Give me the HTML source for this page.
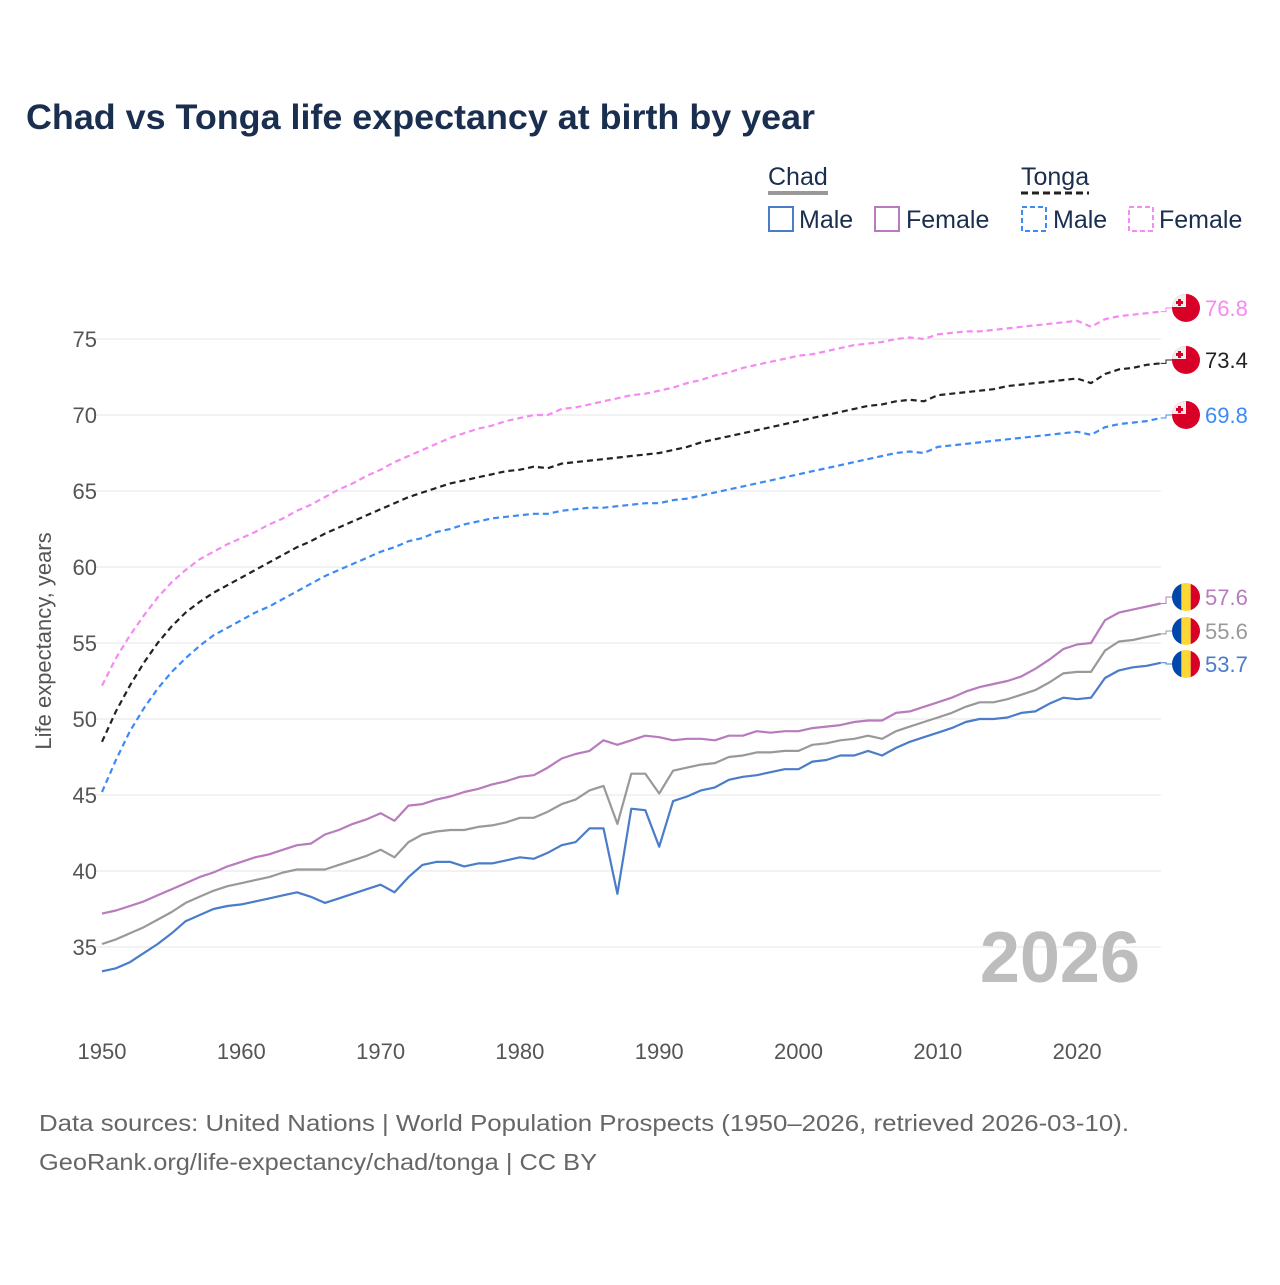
<!DOCTYPE html>
<html><head><meta charset="utf-8"><style>
html,body{margin:0;padding:0;background:#fff;}
body{width:1280px;height:1280px;overflow:hidden;font-family:"Liberation Sans",sans-serif;}
</style></head><body>
<svg id="chart" width="1280" height="1280" xmlns="http://www.w3.org/2000/svg" font-family="Liberation Sans, sans-serif">
<text x="26" y="129" font-size="35" font-weight="bold" fill="#1a2e4f" textLength="789" lengthAdjust="spacingAndGlyphs">Chad vs Tonga life expectancy at birth by year</text>
<g font-size="25" fill="#1a2e4f">
<text x="768" y="185">Chad</text>
<line x1="768" y1="193" x2="828" y2="193" stroke="#999" stroke-width="4"/>
<text x="1021" y="185">Tonga</text>
<line x1="1021" y1="193" x2="1089" y2="193" stroke="#222" stroke-width="3" stroke-dasharray="7,4"/>
<g><rect x="769" y="207" width="24" height="24" fill="none" stroke="#4a7cc9" stroke-width="2"/><text x="799" y="228">Male</text></g>
<g><rect x="875" y="207" width="24" height="24" fill="none" stroke="#b87bbd" stroke-width="2"/><text x="906" y="228">Female</text></g>
<g><rect x="1022" y="207" width="24" height="24" fill="none" stroke="#3d8af7" stroke-width="2" stroke-dasharray="5,3"/><text x="1053" y="228">Male</text></g>
<g><rect x="1129" y="207" width="24" height="24" fill="none" stroke="#f58af0" stroke-width="2" stroke-dasharray="5,3"/><text x="1159" y="228">Female</text></g>
</g>
<g id="grid"></g>
<text x="1140" y="982" font-size="72" font-weight="bold" fill="#bdbdbd" text-anchor="end">2026</text>
<g id="lines"></g>
<g id="ends"></g>
<text transform="translate(51,641) rotate(-90)" font-size="22" fill="#555" text-anchor="middle">Life expectancy, years</text>
<text x="39" y="1131" font-size="23" fill="#666" textLength="1090" lengthAdjust="spacingAndGlyphs">Data sources: United Nations | World Population Prospects (1950–2026, retrieved 2026-03-10).</text>
<text x="39" y="1170" font-size="23" fill="#666" textLength="558" lengthAdjust="spacingAndGlyphs">GeoRank.org/life-expectancy/chad/tonga | CC BY</text>
</svg>
<script>
const startYear = 1950;
const yTicks = [35,40,45,50,55,60,65,70,75];
const xTicks = [1950,1960,1970,1980,1990,2000,2010,2020];
const chadMale = [33.4,33.6,34.0,34.6,35.2,35.9,36.7,37.1,37.5,37.7,37.8,38.0,38.2,38.4,38.6,38.3,37.9,38.2,38.5,38.8,39.1,38.6,39.6,40.4,40.6,40.6,40.3,40.5,40.5,40.7,40.9,40.8,41.2,41.7,41.9,42.8,42.8,38.5,44.1,44.0,41.6,44.6,44.9,45.3,45.5,46.0,46.2,46.3,46.5,46.7,46.7,47.2,47.3,47.6,47.6,47.9,47.6,48.1,48.5,48.8,49.1,49.4,49.8,50.0,50.0,50.1,50.4,50.5,51.0,51.4,51.3,51.4,52.7,53.2,53.4,53.5,53.7];
const chadBoth = [35.2,35.5,35.9,36.3,36.8,37.3,37.9,38.3,38.7,39.0,39.2,39.4,39.6,39.9,40.1,40.1,40.1,40.4,40.7,41.0,41.4,40.9,41.9,42.4,42.6,42.7,42.7,42.9,43.0,43.2,43.5,43.5,43.9,44.4,44.7,45.3,45.6,43.1,46.4,46.4,45.1,46.6,46.8,47.0,47.1,47.5,47.6,47.8,47.8,47.9,47.9,48.3,48.4,48.6,48.7,48.9,48.7,49.2,49.5,49.8,50.1,50.4,50.8,51.1,51.1,51.3,51.6,51.9,52.4,53.0,53.1,53.1,54.5,55.1,55.2,55.4,55.6];
const chadFemale = [37.2,37.4,37.7,38.0,38.4,38.8,39.2,39.6,39.9,40.3,40.6,40.9,41.1,41.4,41.7,41.8,42.4,42.7,43.1,43.4,43.8,43.3,44.3,44.4,44.7,44.9,45.2,45.4,45.7,45.9,46.2,46.3,46.8,47.4,47.7,47.9,48.6,48.3,48.6,48.9,48.8,48.6,48.7,48.7,48.6,48.9,48.9,49.2,49.1,49.2,49.2,49.4,49.5,49.6,49.8,49.9,49.9,50.4,50.5,50.8,51.1,51.4,51.8,52.1,52.3,52.5,52.8,53.3,53.9,54.6,54.9,55.0,56.5,57.0,57.2,57.4,57.6];
const tongaMale = [45.2,47.3,49.2,50.7,52.0,53.1,54.0,54.8,55.5,56.0,56.5,57.0,57.4,57.9,58.4,58.9,59.4,59.8,60.2,60.6,61.0,61.3,61.7,61.9,62.3,62.5,62.8,63.0,63.2,63.3,63.4,63.5,63.5,63.7,63.8,63.9,63.9,64.0,64.1,64.2,64.2,64.4,64.5,64.7,64.9,65.1,65.3,65.5,65.7,65.9,66.1,66.3,66.5,66.7,66.9,67.1,67.3,67.5,67.6,67.5,67.9,68.0,68.1,68.2,68.3,68.4,68.5,68.6,68.7,68.8,68.9,68.7,69.2,69.4,69.5,69.6,69.8];
const tongaBoth = [48.5,50.5,52.2,53.7,55.0,56.1,57.0,57.7,58.3,58.8,59.3,59.8,60.3,60.8,61.3,61.7,62.2,62.6,63.0,63.4,63.8,64.2,64.6,64.9,65.2,65.5,65.7,65.9,66.1,66.3,66.4,66.6,66.5,66.8,66.9,67.0,67.1,67.2,67.3,67.4,67.5,67.7,67.9,68.2,68.4,68.6,68.8,69.0,69.2,69.4,69.6,69.8,70.0,70.2,70.4,70.6,70.7,70.9,71.0,70.9,71.3,71.4,71.5,71.6,71.7,71.9,72.0,72.1,72.2,72.3,72.4,72.1,72.7,73.0,73.1,73.3,73.4];
const tongaFemale = [52.2,54.0,55.5,56.8,58.0,59.0,59.8,60.5,61.0,61.5,61.9,62.3,62.8,63.2,63.7,64.1,64.6,65.1,65.5,66.0,66.4,66.9,67.3,67.7,68.1,68.5,68.8,69.1,69.3,69.6,69.8,70.0,70.0,70.4,70.5,70.7,70.9,71.1,71.3,71.4,71.6,71.8,72.1,72.3,72.6,72.8,73.1,73.3,73.5,73.7,73.9,74.0,74.2,74.4,74.6,74.7,74.8,75.0,75.1,75.0,75.3,75.4,75.5,75.5,75.6,75.7,75.8,75.9,76.0,76.1,76.2,75.8,76.3,76.5,76.6,76.7,76.8];

const NS = "http://www.w3.org/2000/svg";
const x = yr => 102 + (yr - 1950) * 13.93;
const y = v => 947 - (v - 35) * 15.2;
function mk(tag, attrs, parent){const e=document.createElementNS(NS,tag);for(const k in attrs)e.setAttribute(k,attrs[k]);parent.appendChild(e);return e;}

const grid = document.getElementById('grid');
yTicks.forEach(t=>{
  const l = mk('line',{x1:95,x2:1161,y1:y(t),y2:y(t),stroke:'#e6e6e6','stroke-width':1},grid);
  
  
  const tx = mk('text',{x:97,y:y(t)+8,'font-size':22,fill:'#555','text-anchor':'end'},grid);
  tx.textContent = t;
  
  
});
xTicks.forEach(t=>{
  const tx = mk('text',{x:x(t),y:1059,'font-size':22,fill:'#555','text-anchor':'middle'},grid);
  tx.textContent = t;
  
  
});

const series = [
  {name:'tonga-female',data:tongaFemale,color:'#f58af0',dash:'6,4',flag:'tonga',ly:308},
  {name:'tonga-both',data:tongaBoth,color:'#222222',dash:'6,4',flag:'tonga',ly:360},
  {name:'tonga-male',data:tongaMale,color:'#3d8af7',dash:'6,4',flag:'tonga',ly:415},
  {name:'chad-female',data:chadFemale,color:'#b87bbd',dash:'',flag:'chad',ly:597},
  {name:'chad-both',data:chadBoth,color:'#999999',dash:'',flag:'chad',ly:631},
  {name:'chad-male',data:chadMale,color:'#4a7cc9',dash:'',flag:'chad',ly:664},
];
const lines = document.getElementById('lines');
const ends = document.getElementById('ends');
series.forEach(s=>{
  const d = s.data.map((v,i)=>(i?'L':'M')+x(startYear+i).toFixed(1)+','+y(v).toFixed(1)).join(' ');
  const p = mk('path',{d:d,fill:'none',stroke:s.color,'stroke-width':2.2,'stroke-dasharray':s.dash||'none','stroke-linejoin':'round'},lines);
  
  
  const last = s.data[s.data.length-1];
  const lx = x(startYear+s.data.length-1);
  const c = mk('path',{d:`M${lx},${y(last)} L1166,${y(last)} L1166,${s.ly} L1172,${s.ly}`,fill:'none',stroke:s.color,'stroke-width':1},ends);
  
  
  const g = mk('g',{},ends);
  
  
  const cx=1186, cy=s.ly, r=14;
  const cid='clip-'+s.name;
  const cp = mk('clipPath',{id:cid},g); mk('circle',{cx:cx,cy:cy,r:r},cp);
  if(s.flag==='chad'){
    mk('rect',{x:cx-r,y:cy-r,width:10,height:28,fill:'#0047ab','clip-path':`url(#${cid})`},g);
    mk('rect',{x:cx-4.7,y:cy-r,width:9.4,height:28,fill:'#fdd835','clip-path':`url(#${cid})`},g);
    mk('rect',{x:cx+4.7,y:cy-r,width:10,height:28,fill:'#d80027','clip-path':`url(#${cid})`},g);
  } else {
    mk('rect',{x:cx-r,y:cy-r,width:28,height:28,fill:'#d80027','clip-path':`url(#${cid})`},g);
    mk('rect',{x:cx-r,y:cy-r,width:14,height:13,fill:'#eeeeee','clip-path':`url(#${cid})`},g);
    mk('rect',{x:cx-8,y:cy-9,width:3,height:7,fill:'#d80027'},g);
    mk('rect',{x:cx-10,y:cy-7,width:7,height:3,fill:'#d80027'},g);
  }
  const t = mk('text',{x:1205,y:s.ly+8,'font-size':22,fill:s.color},ends);
  t.textContent = last.toFixed(1);
  
  
});
</script>
</body></html>
